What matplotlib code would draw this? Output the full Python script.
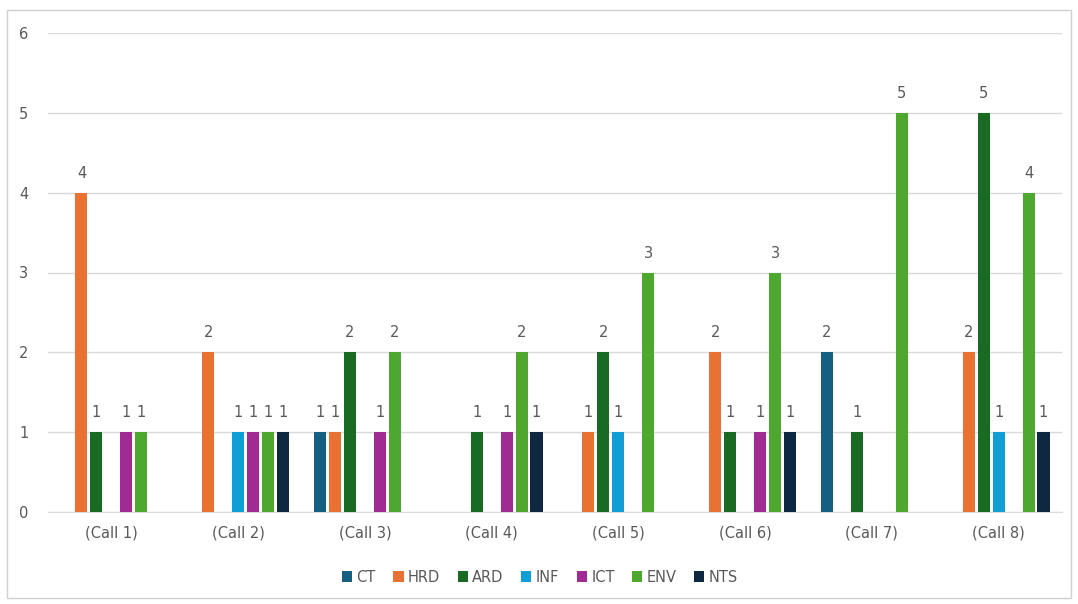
import numpy as np
import matplotlib.pyplot as plt
from matplotlib.patches import Rectangle

calls = ['(Call 1)', '(Call 2)', '(Call 3)', '(Call 4)',
         '(Call 5)', '(Call 6)', '(Call 7)', '(Call 8)']

series = ['CT', 'HRD', 'ARD', 'INF', 'ICT', 'ENV', 'NTS']
colors = ['#156082', '#E97132', '#196B24', '#0F9ED5', '#A02B93', '#4EA72E', '#0E2841']

ct = [0, 0, 1, 0, 0, 0, 2, 0]
hrd = [4, 2, 1, 0, 1, 2, 0, 2]
ard = [1, 0, 2, 1, 2, 1, 1, 5]
inf = [0, 1, 0, 0, 1, 0, 0, 1]
ict = [1, 1, 1, 1, 0, 1, 0, 0]
env = [1, 1, 2, 2, 3, 3, 5, 4]
nts = [0, 1, 0, 1, 0, 1, 0, 1]

values = [ct, hrd, ard, inf, ict, env, nts]

fig = plt.figure(figsize=(10.78, 6.04), dpi=100)
fig.patches.append(Rectangle((7 / 1078, 6 / 604), 1064 / 1078, 588 / 604,
                             transform=fig.transFigure, fill=False,
                             edgecolor='#D0D0D0', linewidth=1))
ax = fig.add_axes([48 / 1078, 92 / 604, 1014 / 1078, 479 / 604])

x = np.arange(len(calls))
step = 0.118
width = 0.095
text_col = '#595959'

for i, (name, vals, col) in enumerate(zip(series, values, colors)):
    pos = x + (i - 3) * step
    bars = ax.bar(pos, vals, width, color=col, label=name, zorder=3)
    for b, v in zip(bars, vals):
        if v > 0:
            ax.text(b.get_x() + b.get_width() / 2, v + 0.15, str(v),
                    ha='center', va='bottom', fontsize=10.5, color=text_col)

ax.set_xlim(-0.5, len(calls) - 0.5)
ax.set_ylim(0, 6)
ax.set_yticks(range(7))
ax.yaxis.grid(True, color='#D9D9D9', linewidth=1, zorder=0)
ax.set_xticks(x)
ax.set_xticklabels(calls)
ax.tick_params(axis='both', length=0, labelsize=10.5, labelcolor=text_col)
ax.tick_params(axis='x', pad=10)
ax.tick_params(axis='y', pad=14)
for side in ['top', 'right', 'left']:
    ax.spines[side].set_visible(False)
ax.spines['bottom'].set_color('#D9D9D9')

leg = fig.legend(loc='center', bbox_to_anchor=(540 / 1078, 1 - 577 / 604),
                 ncol=7, frameon=False, fontsize=10.5, handlelength=0.7,
                 handleheight=0.7, handletextpad=0.3, columnspacing=1.2)
for t in leg.get_texts():
    t.set_color(text_col)

fig.savefig('out.png', dpi=100)
